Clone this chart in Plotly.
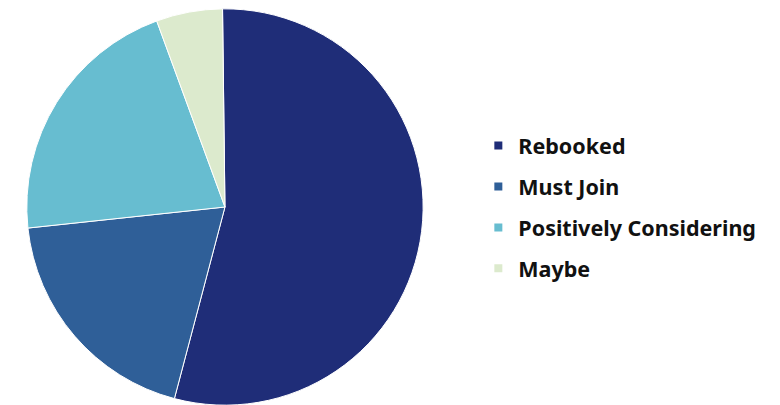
import plotly.graph_objects as go

labels = ["Rebooked", "Must Join", "Positively Considering", "Maybe"]
values = [54.3, 19.2, 21.1, 5.4]
colors = ["#1f2d78", "#2f5f98", "#67bdd0", "#dceacd"]

fig = go.Figure(go.Pie(
    labels=labels, values=values, sort=False, direction="clockwise",
    rotation=-0.7, textinfo="none", hoverinfo="label+percent",
    marker=dict(colors=colors, line=dict(color="white", width=1)),
    domain=dict(x=[0.0241, 0.5322], y=[0, 1]),
    showlegend=False,
))
for lab, col in zip(labels, colors):
    fig.add_trace(go.Scatter(
        x=[None], y=[None], mode="markers", name=lab, legendgroup=lab,
        marker=dict(symbol="square", size=8, color=col),
    ))
fig.update_layout(
    width=780, height=405,
    margin=dict(l=0, r=0, t=0, b=7),
    paper_bgcolor="white", plot_bgcolor="white",
    showlegend=True,
    xaxis=dict(visible=False), yaxis=dict(visible=False),
    legend=dict(x=0.603, y=0.5, xanchor="left", yanchor="middle",
                font=dict(family="Noto Sans", size=21.5, color="#111111", weight="bold"),
                tracegroupgap=10, itemwidth=30),
)
fig.write_html("out.html")
